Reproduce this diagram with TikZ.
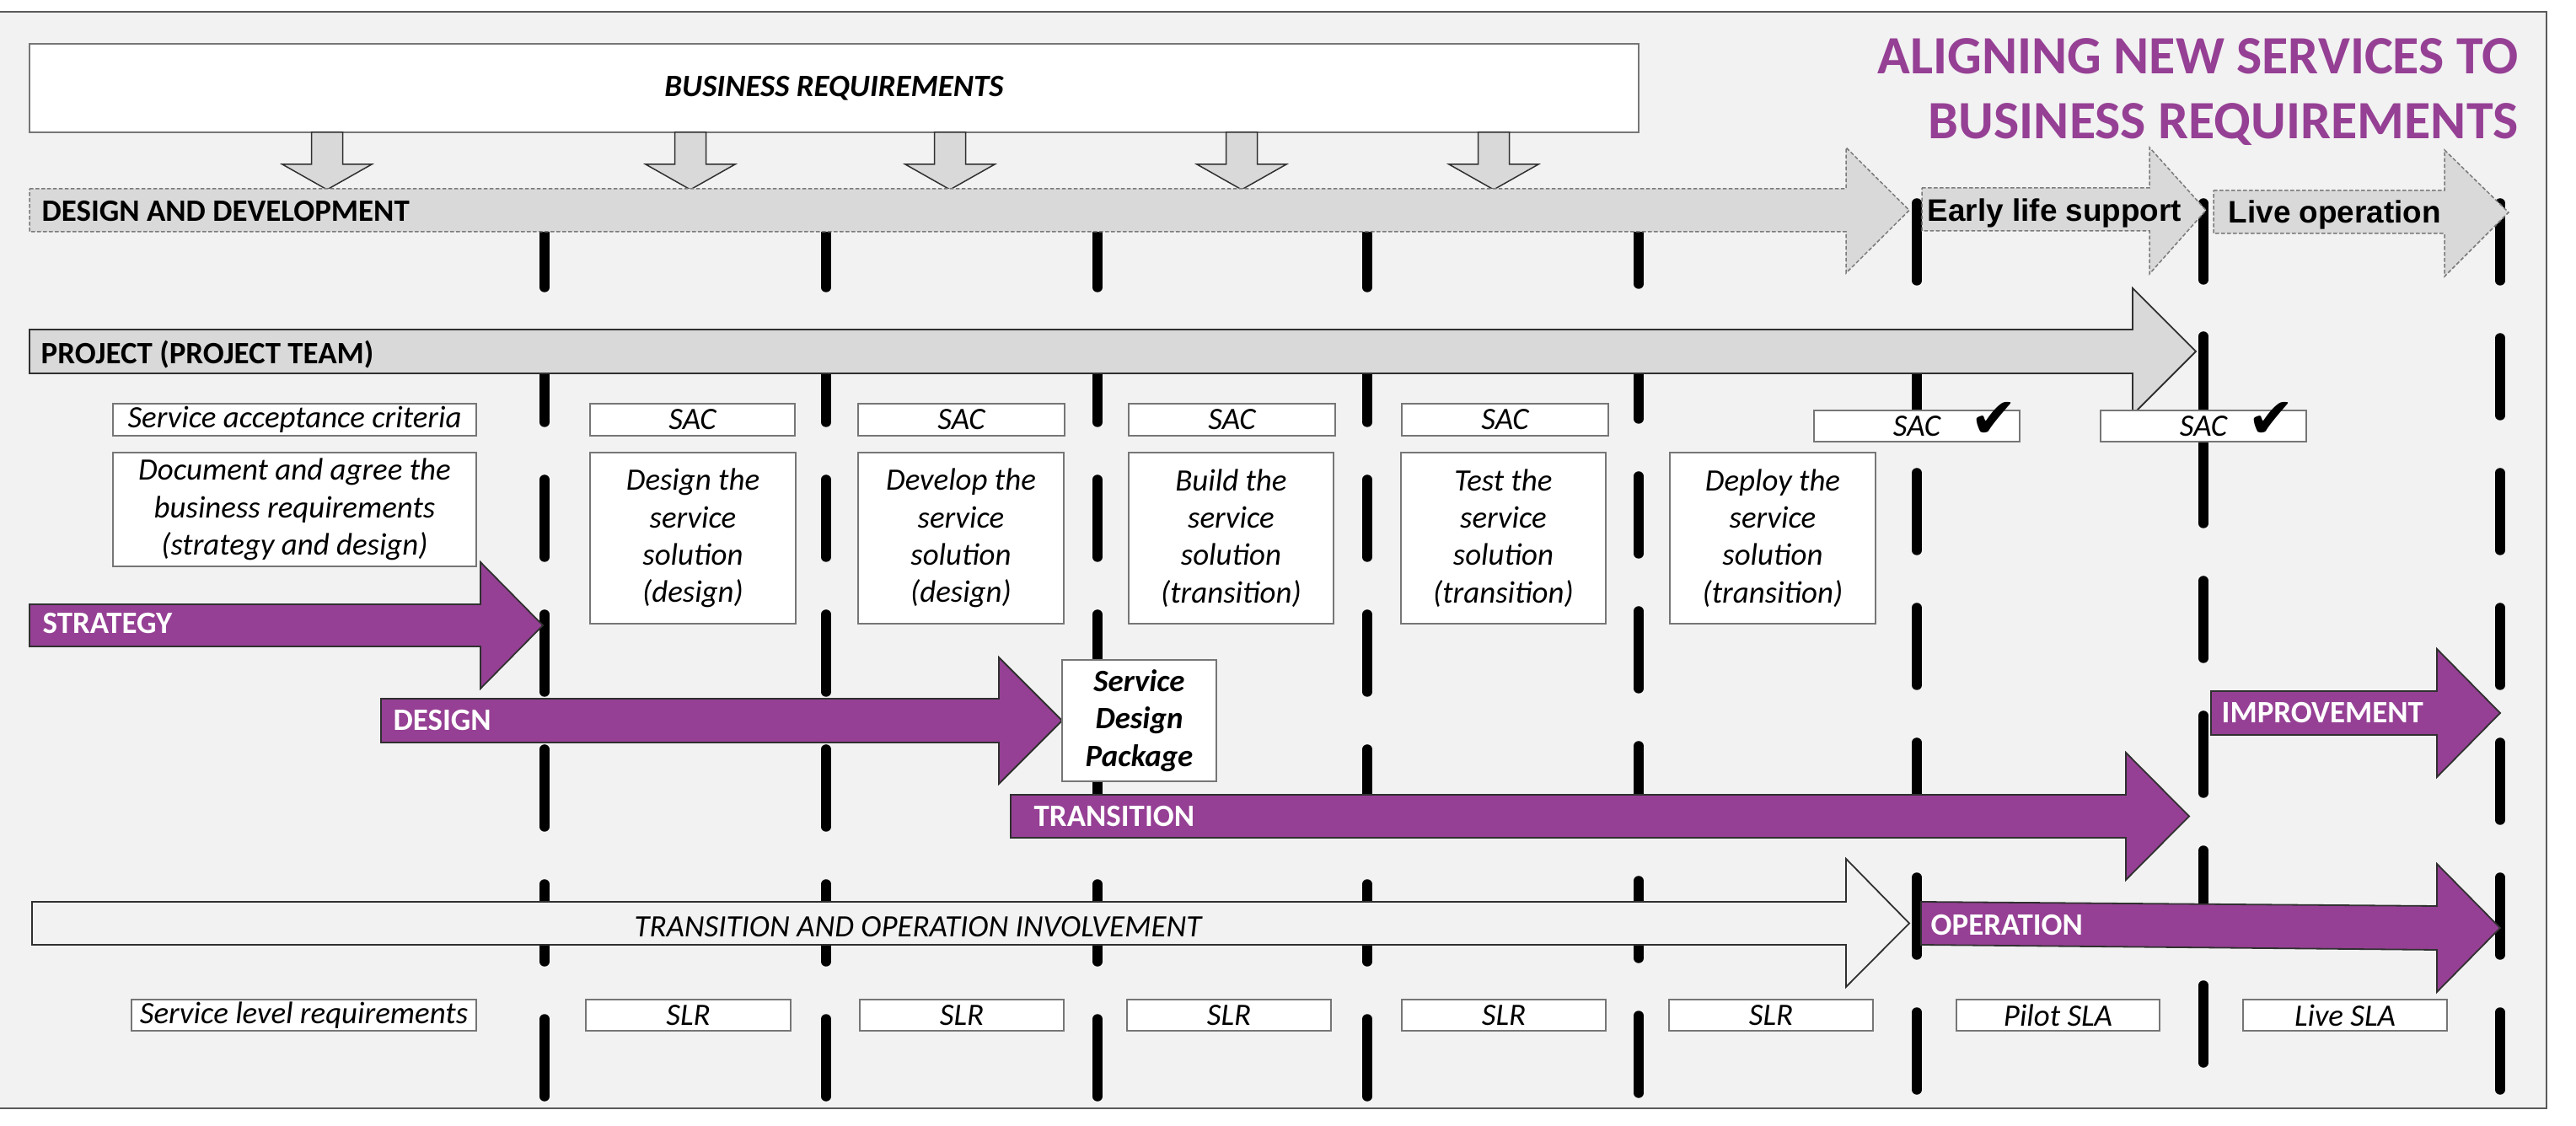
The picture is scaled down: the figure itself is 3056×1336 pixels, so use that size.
\documentclass[tikz,border=0pt]{standalone}
\usepackage{fontspec}
\setmainfont{Carlito}
\newfontfamily\arialf{Liberation Sans}
\newfontfamily\symf{DejaVu Sans}
\definecolor{panelbg}{HTML}{F2F2F2}
\definecolor{arrowgray}{HTML}{D9D9D9}
\definecolor{itilpurple}{RGB}{149,64,148}
\definecolor{boxline}{HTML}{767676}
\definecolor{darkline}{HTML}{303030}
\definecolor{dashgray}{HTML}{7A7A7A}
\newcommand\mytxt{\fontsize{10.5pt}{12.6pt}\selectfont}
\newcommand\myarrow[9]{\path[#1] (#2,#3) -- (#5,#3) -- (#5,#6) -- (#8,#9) -- (#5,#7) -- (#5,#4) -- (#2,#4) -- cycle;}
\newcommand\mydown[1]{\path[downarrow] (#1-18.5,157) -- (#1+18.5,157) -- (#1+18.5,195) -- (#1+53,195) -- (#1,225) -- (#1-53,195) -- (#1-18.5,195) -- cycle;}
\newcommand\myvline[2]{\foreach \s in {0,160,...,960}{\draw[vline] (#1,#2+\s+6) -- (#1,#2+\s+98);}}
\begin{document}
\begin{tikzpicture}[x=0.1mm,y=-0.1mm,
  vline/.style={line width=1.15mm, line cap=round, black},
  grayarrow/.style={fill=arrowgray, draw=dashgray, line width=0.15mm, dash pattern=on 0.45mm off 0.25mm},
  solidgray/.style={fill=arrowgray, draw=darkline, line width=0.18mm},
  purplearrow/.style={fill=itilpurple, draw=darkline, line width=0.18mm},
  whitearrow/.style={fill=panelbg, draw=darkline, line width=0.18mm},
  downarrow/.style={fill=arrowgray, draw=darkline, line width=0.15mm},
  wbox/.style={draw=boxline, fill=white, line width=0.2mm, inner sep=0pt, align=center, font=\mytxt\itshape},
  lbl/.style={inner sep=0pt, anchor=base west, font=\mytxt\bfseries},
  plbl/.style={lbl, text=white},
  albl/.style={inner sep=0pt, anchor=base west, font=\arialf\mytxt\bfseries},
  chk/.style={inner sep=0pt, font=\symf\fontsize{19pt}{19pt}\selectfont},
  ttl/.style={inner sep=0pt, anchor=base east, text=itilpurple, font=\fontsize{18.2pt}{22pt}\selectfont\bfseries}
]
\useasboundingbox (0,0) rectangle (3056,1336);
% panel
\fill[panelbg] (0,14) rectangle (3021,1315);
\draw[darkline!80, line width=0.18mm] (0,14) -- (3021,14) -- (3021,1315) -- (0,1315);

% vertical dashed lines
\myvline{646}{243}
\myvline{980}{243}
\myvline{1302}{243}
\myvline{1622}{243}
\myvline{1944}{239}
\myvline{2274}{235}
\myvline{2966}{235}
\foreach \a/\b in {235/338,393/627,683/787,843/947,1003/1107,1163/1267}
  {\draw[vline] (2614,\a+6) -- (2614,\b-6);}

% business requirements
\node[wbox, font=\mytxt\bfseries\itshape, minimum width=190.9mm, minimum height=10.5mm] (br) at (989.5,104.5) {BUSINESS REQUIREMENTS};
\mydown{388}
\mydown{819}
\mydown{1127}
\mydown{1473}
\mydown{1772}

% title
\node[ttl] (title1) at (2988,88) {ALIGNING NEW SERVICES TO};
\node[ttl] (title2) at (2988,165) {BUSINESS REQUIREMENTS};

% gray phase arrows
\myarrow{grayarrow}{35}{224}{275}{2190}{175}{324}{2265}{249.5}
\node[lbl] (tdd) at (49,263) {DESIGN AND DEVELOPMENT};
\myarrow{grayarrow}{2280}{223}{274}{2550}{175}{325}{2617}{249.5}
\node[albl] (tels) at (2286,263) {Early life support};
\myarrow{grayarrow}{2626}{226}{277}{2900}{178}{328}{2976}{252}
\node[albl] (tlo) at (2643,265) {Live operation};

% project arrow
\myarrow{solidgray}{35}{391}{443}{2530}{342}{492}{2605}{417}
\node[lbl] (tproj) at (48,432) {PROJECT (PROJECT TEAM)};

% SAC row
\node[wbox, minimum width=43.1mm, minimum height=3.8mm] (sacL) at (349.5,498) {Service acceptance criteria};
\node[wbox, minimum width=24.3mm, minimum height=3.8mm] (sac1) at (821.5,498) {SAC};
\node[wbox, minimum width=24.5mm, minimum height=3.8mm] (sac2) at (1140.5,498) {SAC};
\node[wbox, minimum width=24.5mm, minimum height=3.8mm] (sac3) at (1461.5,498) {SAC};
\node[wbox, minimum width=24.5mm, minimum height=3.8mm] (sac4) at (1785.5,498) {SAC};
\node[wbox, minimum width=24.4mm, minimum height=3.7mm] (sacA) at (2274,505.5) {SAC};
\node[chk] (chkA) at (2365,498) {✔};
\node[wbox, minimum width=24.4mm, minimum height=3.7mm] (sacB) at (2614,505.5) {SAC};
\node[chk] (chkB) at (2694,498) {✔};

% description row
\node[wbox, minimum width=43.1mm, minimum height=13.5mm] (doc) at (349.5,604.5) {Document and agree the\\business requirements\\(strategy and design)};
\node[wbox, minimum width=24.4mm, minimum height=20.3mm] (dDesign) at (822,638.5) {Design the\\service\\solution\\(design)};
\node[wbox, minimum width=24.4mm, minimum height=20.3mm] (dDevelop) at (1140,638.5) {Develop the\\service\\solution\\(design)};
\node[wbox, minimum width=24.3mm, minimum height=20.3mm] (dBuild) at (1460.5,638.5) {Build the\\service\\solution\\(transition)};
\node[wbox, minimum width=24.3mm, minimum height=20.3mm] (dTest) at (1783.5,638.5) {Test the\\service\\solution\\(transition)};
\node[wbox, minimum width=24.4mm, minimum height=20.3mm] (dDeploy) at (2103,638.5) {Deploy the\\service\\solution\\(transition)};

% purple arrows
\myarrow{purplearrow}{35}{717}{767}{570}{667}{817}{644}{742}
\node[plbl] (tstr) at (50,752) {STRATEGY};
\myarrow{purplearrow}{452}{829}{881}{1185}{780}{930}{1260}{855}
\node[plbl] (tdes) at (466,867) {DESIGN};
\node[wbox, font=\mytxt\bfseries\itshape, minimum width=18.3mm, minimum height=14.4mm] (sdp) at (1351.5,855) {Service\\Design\\Package};
\myarrow{purplearrow}{1199}{943}{994}{2522}{893}{1044}{2597}{968.5}
\node[plbl] (ttra) at (1226,981) {TRANSITION};
\myarrow{purplearrow}{2623}{820}{872}{2891}{770}{922}{2966}{846}
\node[plbl] (timp) at (2635,858) {IMPROVEMENT};

% transition and operation involvement
\myarrow{whitearrow}{38}{1070}{1121}{2190}{1019}{1171}{2265}{1095.5}
\node[inner sep=0pt, anchor=base, font=\mytxt\itshape] (ttoi) at (1089,1112) {TRANSITION AND OPERATION INVOLVEMENT};

% operation arrow (slightly tilted)
\path[purplearrow] (2279,1070) -- (2891,1075) -- (2891,1025) -- (2966,1101) -- (2891,1177) -- (2891,1127) -- (2279,1121) -- cycle;
\node[plbl] (top) at (2290,1110) {OPERATION};

% SLR row
\node[wbox, minimum width=40.9mm, minimum height=3.7mm] (slrL) at (360.5,1204.5) {Service level requirements};
\node[wbox, minimum width=24.3mm, minimum height=3.7mm] (slr1) at (816.5,1204.5) {SLR};
\node[wbox, minimum width=24.2mm, minimum height=3.7mm] (slr2) at (1141,1204.5) {SLR};
\node[wbox, minimum width=24.2mm, minimum height=3.7mm] (slr3) at (1458,1204.5) {SLR};
\node[wbox, minimum width=24.2mm, minimum height=3.7mm] (slr4) at (1784,1204.5) {SLR};
\node[wbox, minimum width=24.2mm, minimum height=3.7mm] (slr5) at (2101,1204.5) {SLR};
\node[wbox, minimum width=24.1mm, minimum height=3.7mm] (pilot) at (2441.5,1204.5) {Pilot SLA};
\node[wbox, minimum width=24.2mm, minimum height=3.7mm] (live) at (2782,1204.5) {Live SLA};
\end{tikzpicture}
\end{document}
